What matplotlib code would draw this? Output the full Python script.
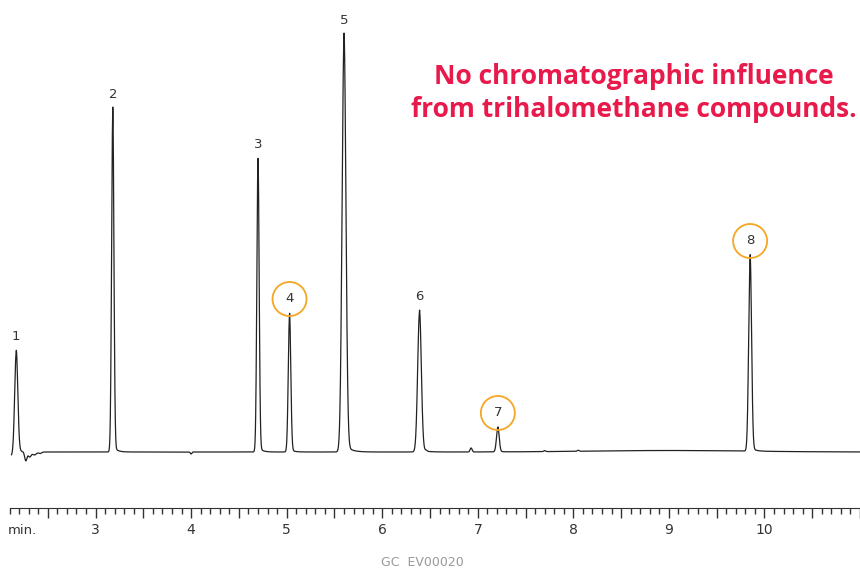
import numpy as np
import matplotlib.pyplot as plt

# peaks (time in min, height in px above baseline)
peak_labels = ["1", "2", "3", "4", "5", "6", "7", "8"]
peak_times = [2.17, 3.18, 4.70, 5.03, 5.60, 6.39, 7.21, 9.85]
peak_heights = [102, 345, 295, 139, 419, 142, 25, 197]
peak_widths = [0.016, 0.012, 0.012, 0.013, 0.020, 0.019, 0.014, 0.015]
circled = ["4", "7", "8"]

# small baseline disturbances (time, height, width)
noise_times = [2.12, 2.27, 2.31, 2.36, 2.42, 4.00, 6.46, 6.93, 7.70, 8.05, 9.00]
noise_heights = [-3.5, -9.0, -5.0, -3.0, -1.5, -2.0, 1.0, 4.0, 1.0, 1.0, 1.5]
noise_widths = [0.015, 0.012, 0.015, 0.02, 0.015, 0.008, 0.01, 0.01, 0.01, 0.01, 0.8]

title_lines = ["No chromatographic influence", "from trihalomethane compounds."]
axis_ticks = [3, 4, 5, 6, 7, 8, 9, 10]
footer = "GC  EV00020"


def gauss(t, t0, h, w):
    return h * np.exp(-0.5 * ((t - t0) / w) ** 2)


t = np.linspace(2.12, 11.0, 8000)
signal = np.zeros_like(t)
tail_frac = 0.02
for t0, h, w in zip(peak_times, peak_heights, peak_widths):
    signal += gauss(t, t0, h * (1 - tail_frac), w)
    # a little tailing on the back side
    signal += np.where(t > t0, tail_frac * h * np.exp(-(t - t0) / (3 * w)), 0)
for t0, h, w in zip(noise_times, noise_heights, noise_widths):
    signal += gauss(t, t0, h, w)

fig = plt.figure(figsize=(8.6, 5.7), dpi=100)
W, H = 860, 570

# trace axes: spans full width, from top to pixel 480
ax = fig.add_axes([0, (H - 480) / H, 1, 480 / H])
ax.set_xlim(2.0, 11.0)
ax.set_ylim(-28, 452)
ax.axis("off")
ax.plot(t, signal, color="#222222", lw=0.9)

text_color = "#333333"
for lab, t0, h in zip(peak_labels, peak_times, peak_heights):
    if lab in circled:
        ax.annotate(lab, (t0, h), xytext=(0, 14), textcoords="offset pixels",
                    ha="center", va="center", fontsize=9.5, color=text_color)
        ax.scatter([t0], [h + 14], s=600, facecolors="none",
                   edgecolors="#F5A623", linewidths=1.3, zorder=3)
    else:
        ax.annotate(lab, (t0, h), xytext=(0, 13), textcoords="offset pixels",
                    ha="center", va="center", fontsize=9.5, color=text_color)

for i, line in enumerate(title_lines):
    fig.text(634 / W, 1 - (77 + 33 * i) / H, line, ha="center", va="center",
             fontsize=19, fontweight="bold", color="#E8194B",
             family="Open Sans")

# time ruler
rx = fig.add_axes([0, (H - 508) / H, 1, 0.0001])
rx.set_xlim(2.0, 11.0)
for s in ["top", "left", "right"]:
    rx.spines[s].set_visible(False)
rx.spines["bottom"].set_bounds(2.1, 11.0)
rx.spines["bottom"].set_color(text_color)
rx.set_yticks([])
major = np.arange(2.5, 11.01, 0.5)
rx.set_xticks(major)
rx.set_xticks(np.arange(2.1, 11.01, 0.1), minor=True)
rx.set_xticklabels([str(int(m)) if m in axis_ticks else "" for m in major])
rx.tick_params(axis="x", which="major", length=7, width=1, color=text_color,
               pad=4, labelsize=10, labelcolor=text_color)
rx.tick_params(axis="x", which="minor", length=4, width=1, color=text_color)
fig.text(22 / W, 1 - 531 / H, "min.", ha="center", va="center", fontsize=9.5,
         color=text_color)

fig.text(422 / W, 1 - 563 / H, footer, ha="center", va="center", fontsize=9,
         color="#999999")

fig.savefig("out.png", dpi=100)
